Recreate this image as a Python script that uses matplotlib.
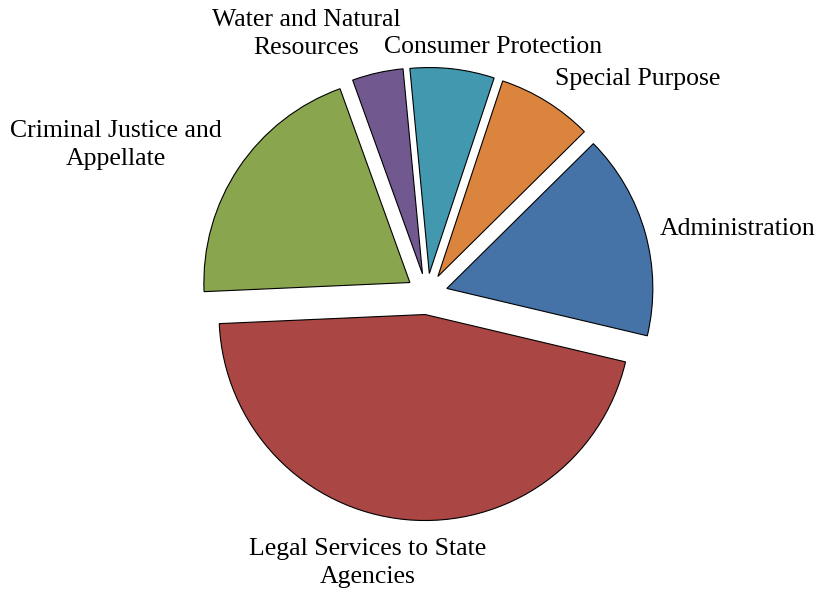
import matplotlib.pyplot as plt

categories = ["Administration", "Special Purpose", "Consumer Protection",
              "Water and Natural\nResources", "Criminal Justice and\nAppellate",
              "Legal Services to State\nAgencies"]
shares = [16.1, 7.5, 6.6, 4.0, 20.2, 45.6]
colors = ["#4572A7", "#DB843D", "#4198AF", "#71588F", "#89A54E", "#AA4643"]

# label centres in pixels (from top-left of the image)
label_pos = [(738, 229), (638, 79), (493, 47), (306, 34), (116, 145), (368, 563)]

W, H = 820, 592
cx, cy, R = 427, 298, 206   # pie centre (from bottom) and radius in px


def px2data(px, py):
    return (px - cx) / R, ((H - py) - cy) / R


def main():
    plt.rcParams['font.family'] = ['Liberation Serif', 'DejaVu Serif']
    fig = plt.figure(figsize=(W / 100, H / 100), dpi=100)
    ax = fig.add_axes([0, 0, 1, 1])

    ax.pie(shares, colors=colors, startangle=-13.3, counterclock=True,
           explode=[0.1] * len(shares), radius=1.0,
           wedgeprops=dict(edgecolor="black", linewidth=0.8))

    ax.set_aspect('auto')
    ax.set_xlim(-cx / R, (W - cx) / R)
    ax.set_ylim(-cy / R, (H - cy) / R)
    ax.axis('off')

    for lab, (px, py) in zip(categories, label_pos):
        x, y = px2data(px, py)
        ax.text(x, y, lab, ha='center', va='center', fontsize=18.5,
                linespacing=1.35, color='black')

    fig.savefig("out.png", dpi=100)


if __name__ == "__main__":
    main()
